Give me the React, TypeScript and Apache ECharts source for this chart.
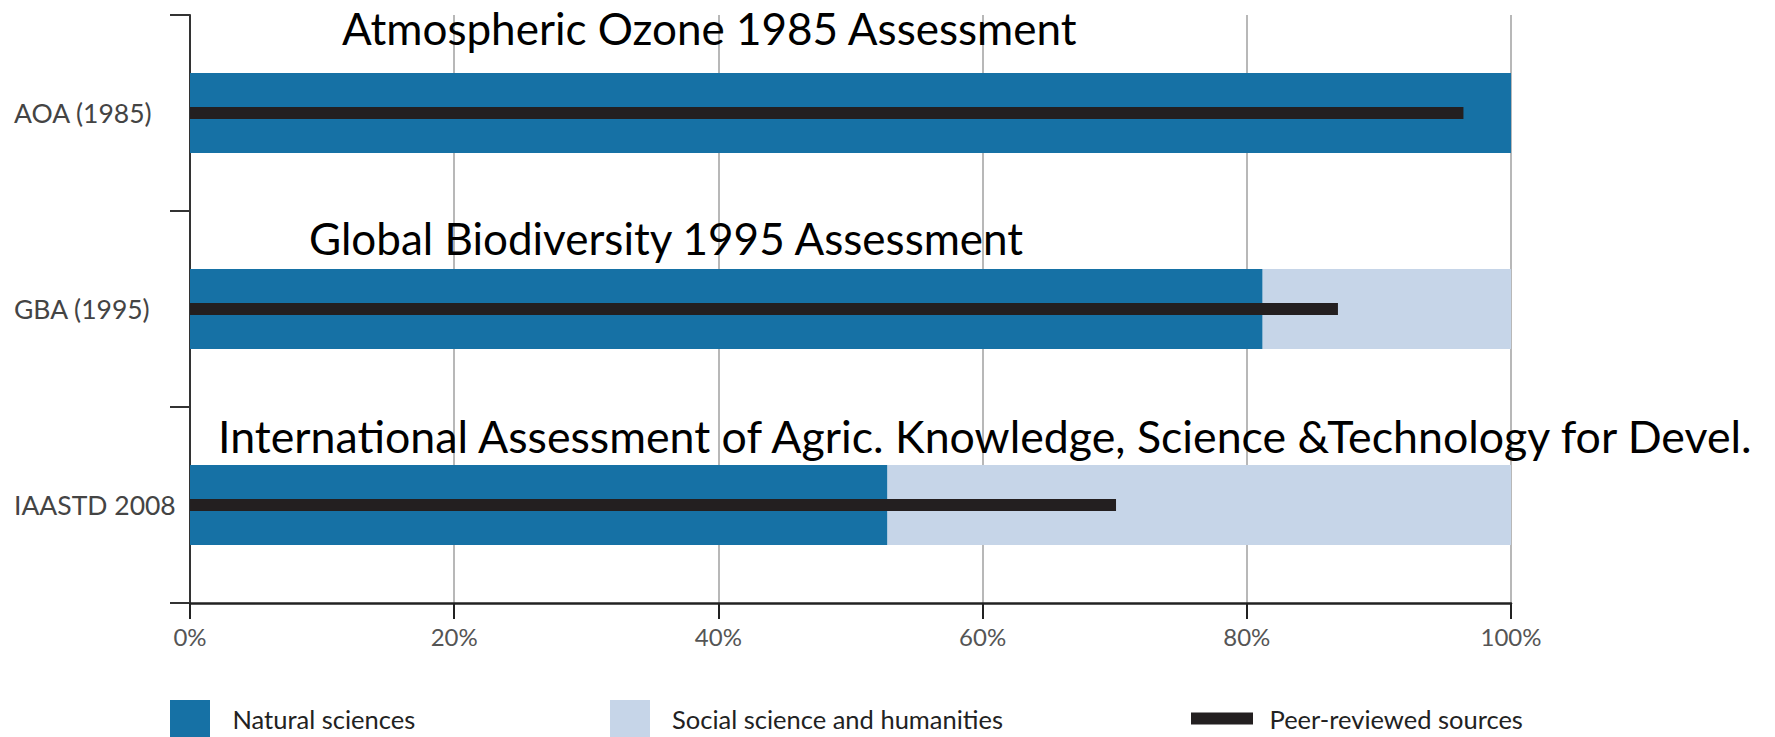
import React, { useEffect, useRef } from "react";
import * as echarts from "echarts";

const categories = ["AOA (1985)", "GBA (1995)", "IAASTD 2008"];
const naturalSciences = [100, 81.2, 52.8];
const socialSciences = [0, 18.8, 47.2];
const peerReviewed = [96.4, 86.9, 70.1];
const xTicks = { min: 0, max: 100, interval: 20 };
const annotations = [
  "Atmospheric Ozone 1985 Assessment",
  "Global Biodiversity 1995 Assessment",
  "International Assessment of Agric. Knowledge, Science &Technology for Devel.",
];
const seriesNames = ["Natural sciences", "Social science and humanities", "Peer-reviewed sources"];

const FONT = "Lato";

export default function App() {
  const ref = useRef<HTMLDivElement>(null);
  useEffect(() => {
    if (!ref.current) return;
    const chart = echarts.init(ref.current, null, { renderer: "svg" });
    const catAxisBase = {
      type: "category",
      data: categories,
      inverse: true,
    };
    const legendText = { fontFamily: FONT, fontSize: 25.5, color: "#222" };
    chart.setOption({
      animation: false,
      backgroundColor: "#ffffff",
      grid: { left: 190, right: 264, top: 15, bottom: 134, containLabel: false },
      xAxis: {
        type: "value",
        min: xTicks.min,
        max: xTicks.max,
        interval: xTicks.interval,
        axisLine: { show: true, lineStyle: { color: "#222", width: 2.5 } },
        axisTick: { show: true, length: 16, lineStyle: { color: "#222", width: 2 } },
        splitLine: { show: true, lineStyle: { color: "#a0a0a0", width: 1.5 } },
        axisLabel: {
          formatter: "{value}%",
          fontFamily: FONT,
          fontSize: 24,
          color: "#555",
          margin: 21,
        },
      },
      yAxis: [
        {
          ...catAxisBase,
          axisLine: { show: true, lineStyle: { color: "#333", width: 2 } },
          axisTick: { show: true, length: 20, alignWithLabel: false, lineStyle: { color: "#333", width: 2 } },
          axisLabel: {
            align: "left",
            margin: 176,
            fontFamily: FONT,
            fontSize: 26.5,
            color: "#444",
          },
          splitLine: { show: false },
        },
        {
          ...catAxisBase,
          show: false,
        },
      ],
      legend: [
        {
          data: [seriesNames[0]],
          left: 170,
          top: 700,
          itemWidth: 40,
          itemHeight: 37,
          icon: "rect",
          selectedMode: false,
          padding: 0,
          textStyle: { ...legendText, padding: [0, 0, 0, 17.5] },
        },
        {
          data: [seriesNames[1]],
          left: 610,
          top: 700,
          itemWidth: 40,
          itemHeight: 37,
          icon: "rect",
          selectedMode: false,
          padding: 0,
          textStyle: { ...legendText, padding: [0, 0, 0, 17] },
        },
        {
          data: [seriesNames[2]],
          left: 1191,
          top: 700,
          itemWidth: 62,
          itemHeight: 12,
          icon: "rect",
          selectedMode: false,
          padding: 0,
          textStyle: { ...legendText, padding: [0, 0, 0, 11.5], lineHeight: 37 },
        },
      ],
      series: [
        {
          name: seriesNames[0],
          type: "bar",
          stack: "total",
          yAxisIndex: 0,
          barWidth: 80,
          data: naturalSciences,
          itemStyle: { color: "#1671a5" },
        },
        {
          name: seriesNames[1],
          type: "bar",
          stack: "total",
          yAxisIndex: 0,
          barWidth: 80,
          data: socialSciences,
          itemStyle: { color: "#c6d5e8" },
        },
        {
          name: seriesNames[2],
          type: "bar",
          yAxisIndex: 1,
          barWidth: 12,
          data: peerReviewed,
          itemStyle: { color: "#231f20" },
          z: 5,
        },
      ],
      graphic: [
        {
          type: "text",
          left: 342,
          top: 6,
          z: 10,
          style: { text: annotations[0], fontFamily: FONT, fontSize: 44, fill: "#000" },
        },
        {
          type: "text",
          left: 309,
          top: 216,
          z: 10,
          style: { text: annotations[1], fontFamily: FONT, fontSize: 44, fill: "#000" },
        },
        {
          type: "text",
          left: 218,
          top: 413,
          z: 10,
          style: { text: annotations[2], fontFamily: FONT, fontSize: 44.7, fill: "#000" },
        },
      ],
    });
    return () => chart.dispose();
  }, []);
  return (
    <div
      ref={ref}
      style={{ position: "fixed", left: 0, top: 0, width: 1775, height: 737 }}
    />
  );
}
